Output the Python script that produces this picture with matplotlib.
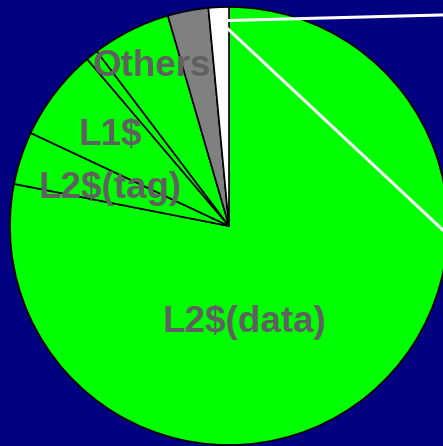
import matplotlib

matplotlib.use("Agg")
import matplotlib.pyplot as plt

# share of each component, clockwise from 12 o'clock
labels = ["L2$(data)", "L2$(tag)", "L1$", "", "Others", "", ""]
shares = [78.0, 3.9, 6.8, 0.9, 5.8, 3.0, 1.5]
colors = ["#00ff00", "#00ff00", "#00ff00", "#00ff00", "#00ff00", "#808080", "#ffffff"]

# where the label text sits (pixel-like data coords, y up)
label_pos = {
    "L2$(data)": (244, 124),
    "L2$(tag)": (110, 258),
    "L1$": (110, 311),
    "Others": (152, 379),
}

W, H = 443, 446
fig = plt.figure(figsize=(W / 100, H / 100), dpi=100, facecolor="#000080")
ax = fig.add_axes([0, 0, 1, 1])
ax.set_facecolor("#000080")

ax.pie(
    shares,
    colors=colors,
    startangle=90,
    counterclock=False,
    center=(229, 220),
    radius=219,
    frame=True,
    wedgeprops=dict(edgecolor="black", linewidth=1.2),
)

# connector lines from the small white slice off to the right
ax.plot([228, 460], [425.5, 431.5], color="white", lw=2.2, clip_on=True)
ax.plot([228, 460], [417, 200], color="white", lw=2.2, clip_on=True)

for name, (x, y) in label_pos.items():
    ax.text(x, y, name, ha="center", va="center", fontsize=26.5,
            fontweight="bold", family="Liberation Sans", color="#606060")

ax.set_xlim(0, W)
ax.set_ylim(0, H)
ax.set_aspect("equal")
ax.axis("off")

fig.savefig("out.png", dpi=100, facecolor=fig.get_facecolor())
